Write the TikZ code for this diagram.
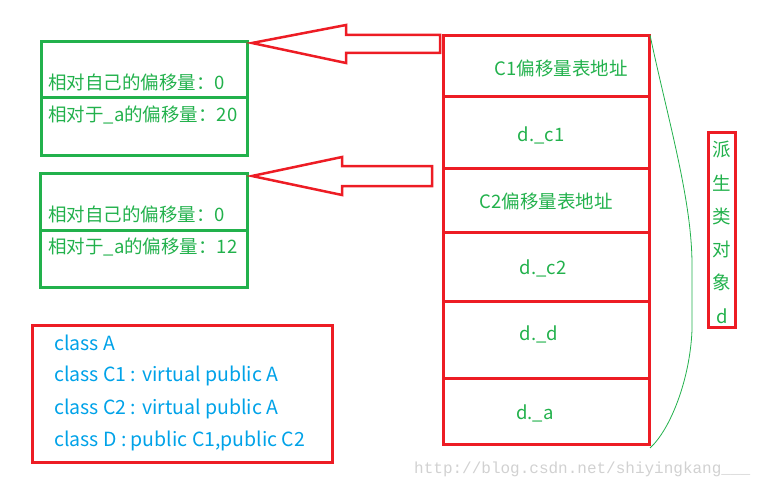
\documentclass[tikz,border=0pt]{standalone}
\usepackage{fontspec}
\setmainfont{Noto Sans CJK SC}
\newfontfamily\wm{Liberation Mono}
\definecolor{rd}{RGB}{237,28,36}
\definecolor{gr}{RGB}{34,177,76}
\definecolor{bl}{RGB}{0,162,232}
\begin{document}
\begin{tikzpicture}[x=1pt,y=-1pt,
  rbox/.style={draw=rd,line width=3pt},
  gbox/.style={draw=gr,line width=3pt},
  gt/.style={text=gr,font=\fontsize{18.5}{20}\selectfont,inner sep=0pt},
  bt/.style={text=bl,font=\fontsize{19.5}{20}\selectfont,inner sep=0pt,anchor=west}]
\useasboundingbox (0,0) rectangle (767,489);
% red column
\foreach \a/\b/\n in {36/97/r1,97/168/r2,168/232/r3,232/301/r4,301/378/r5,378/444/r6}
  \draw[rbox] (443,\a) rectangle (649,\b);
\node[gt] (t1) at (561,68) {C1偏移量表地址};
\node[gt] (t2) at (541,135) {d.\_c1};
\node[gt] (t3) at (546,201) {C2偏移量表地址};
\node[gt] (t4) at (543,268) {d.\_c2};
\node[gt] (t5) at (539,334) {d.\_d};
\node[gt] (t6) at (535,413) {d.\_a};
% green boxes
\draw[gbox] (41,42) rectangle (247,156);
\draw[gbox] (41,98) -- (247,98);
\node[gt,anchor=west] (g1) at (48,82) {相对自己的偏移量：0};
\node[gt,anchor=west] (g2) at (48,115) {相对于\_a的偏移量：20};
\draw[gbox] (40,173) rectangle (247,287);
\draw[gbox] (40,230) -- (247,230);
\node[gt,anchor=west] (g3) at (48,214) {相对自己的偏移量：0};
\node[gt,anchor=west] (g4) at (48,247) {相对于\_a的偏移量：12};
% arrows
\draw[rd,line width=2.5pt,line join=miter] (252,43) -- (346,25) -- (346,35) -- (440,35) -- (440,53) -- (346,53) -- (346,63) -- cycle;
\draw[rd,line width=2.5pt,line join=miter] (252,176) -- (342,157) -- (342,166) -- (432,166) -- (432,186) -- (342,186) -- (342,195) -- cycle;
% brace
\draw[gr,line width=0.8pt] (650,35) .. controls (668,120) and (692,200) .. (692,265) -- (692,330) .. controls (690,380) and (670,430) .. (650,448);
% label
\draw[rbox] (708,133) rectangle (735,327);
\foreach \c/\y in {派/150,生/183,类/216,对/249,象/282,d/316}
  \node[gt] at (722,\y) {\c};
% blue box
\draw[rbox] (32,325) rectangle (332,462);
\node[bt] (c1) at (54,343) {class A};
\node[bt] (c2) at (54,376) {class C1 : virtual public A};
\node[bt] (c3) at (54,409) {class C2 : virtual public A};
\node[bt] (c4) at (54,441) {class D : public C1,public C2};
\node[text=black!18,font=\wm\fontsize{16}{18}\selectfont,anchor=west,inner sep=0pt] (w) at (414,469) {http://blog.csdn.net/shiyingkang\_\_\_};
\end{tikzpicture}
\end{document}
